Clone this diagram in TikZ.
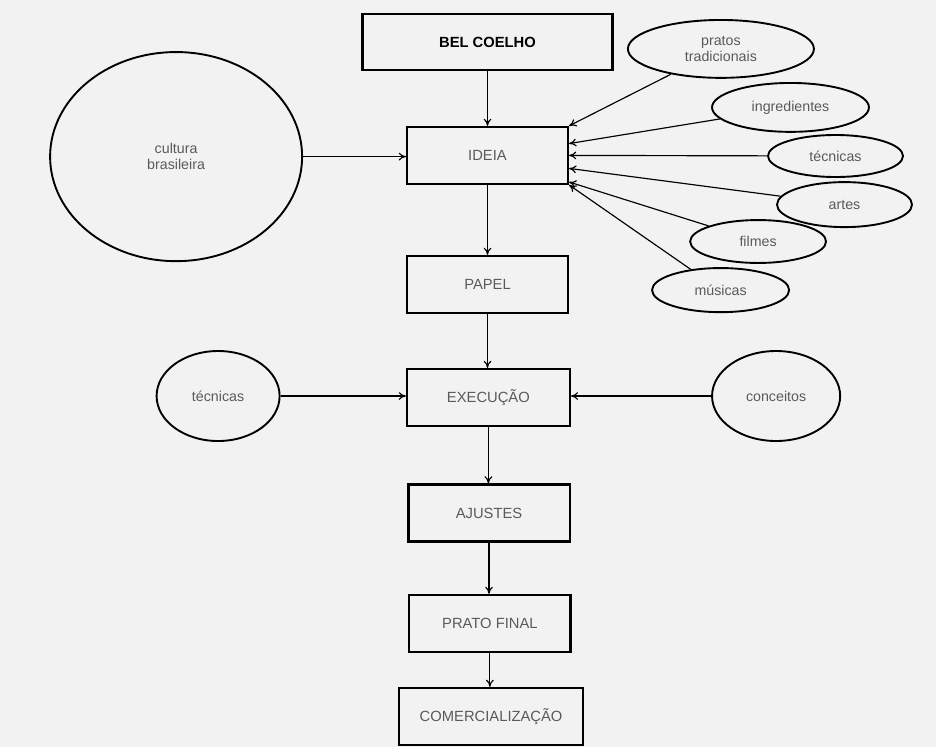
\documentclass[tikz,border=0pt]{standalone}
\usepackage{fontspec}
\setmainfont{Liberation Sans}
\usetikzlibrary{calc,shapes.geometric,arrows.meta}
\definecolor{bgpaper}{RGB}{242,242,242}
\definecolor{txtgray}{RGB}{90,90,90}
\tikzset{
  stagebox/.style={draw,line width=2pt,minimum width=5.37cm,minimum height=1.9cm,fill=bgpaper,text=txtgray,font=\fontsize{14}{16}\selectfont},
  idea/.style={draw,ellipse,line width=1.8pt,inner sep=0pt,fill=bgpaper,text=txtgray,align=center,font=\fontsize{13.5}{15}\selectfont},
  flow/.style={line width=1.1pt,-{To[length=2.4mm,width=2.6mm]}}
}

\begin{document}
\begin{tikzpicture}
\fill[bgpaper] (0,0) rectangle (31.2,-24.9);
\useasboundingbox (0,0) rectangle (31.2,-24.9);
\node[stagebox,minimum width=8.33cm,minimum height=1.87cm,text=black,font=\fontsize{14}{16}\selectfont\bfseries] (bel) at (16.25,-1.40) {BEL COELHO};
\node[stagebox] (ideia) at (16.25,-5.18) {IDEIA};
\node[stagebox] (papel) at (16.25,-9.48) {PAPEL};
\node[stagebox,minimum width=5.43cm] (exec) at (16.28,-13.25) {EXECUÇÃO};
\node[stagebox] (ajustes) at (16.30,-17.10) {AJUSTES};
\node[stagebox] (prato) at (16.33,-20.78) {PRATO FINAL};
\node[stagebox,minimum width=6.13cm] (comerc) at (16.37,-23.88) {COMERCIALIZAÇÃO};
\node[idea,minimum width=8.4cm,minimum height=6.97cm] (cultura) at (5.87,-5.22) {cultura\\brasileira};
\node[idea,minimum width=4.1cm,minimum height=3cm] (tecesq) at (7.27,-13.2) {técnicas};
\node[idea,minimum width=4.27cm,minimum height=3cm] (conceitos) at (25.87,-13.2) {conceitos};
\node[idea,minimum width=6.2cm,minimum height=1.93cm] (pratos) at (24.03,-1.63) {pratos\\tradicionais};
\node[idea,minimum width=5.23cm,minimum height=1.63cm] (ingred) at (26.35,-3.58) {ingredientes};
\node[idea,minimum width=4.5cm,minimum height=1.4cm] (tecdir) at (27.85,-5.2) {técnicas};
\node[idea,minimum width=4.5cm,minimum height=1.5cm] (artes) at (28.15,-6.82) {artes};
\node[idea,minimum width=4.53cm,minimum height=1.43cm] (filmes) at (25.27,-8.05) {filmes};
\node[idea,minimum width=4.57cm,minimum height=1.47cm] (musicas) at (24.02,-9.67) {músicas};
\draw[flow] (bel.south) -- (bel.south |- ideia.north);
\draw[flow] (ideia.south) -- (ideia.south |- papel.north);
\draw[flow] (papel.south) -- (papel.south |- exec.north);
\draw[flow] (exec.south) -- (exec.south |- ajustes.north);
\draw[flow] (ajustes.south) -- (ajustes.south |- prato.north);
\draw[flow] (prato.south) -- (prato.south |- comerc.north);
\draw[flow] (cultura.east) -- (cultura.east -| ideia.west);
\draw[flow] (tecesq.east) -- (tecesq.east -| exec.west);
\draw[flow] (conceitos.west) -- (conceitos.west -| exec.east);
\draw[flow] (pratos) -- (ideia.north east);
\draw[flow] (ingred) -- ($(ideia.north east)!0.3!(ideia.south east)$);
\draw[flow] (tecdir) -- (ideia.east);
\draw[flow] (artes) -- ($(ideia.north east)!0.72!(ideia.south east)$);
\draw[flow] (filmes) -- ($(ideia.north east)!0.95!(ideia.south east)$);
\draw[flow] (musicas) -- (ideia.south east);
\end{tikzpicture}
\end{document}
